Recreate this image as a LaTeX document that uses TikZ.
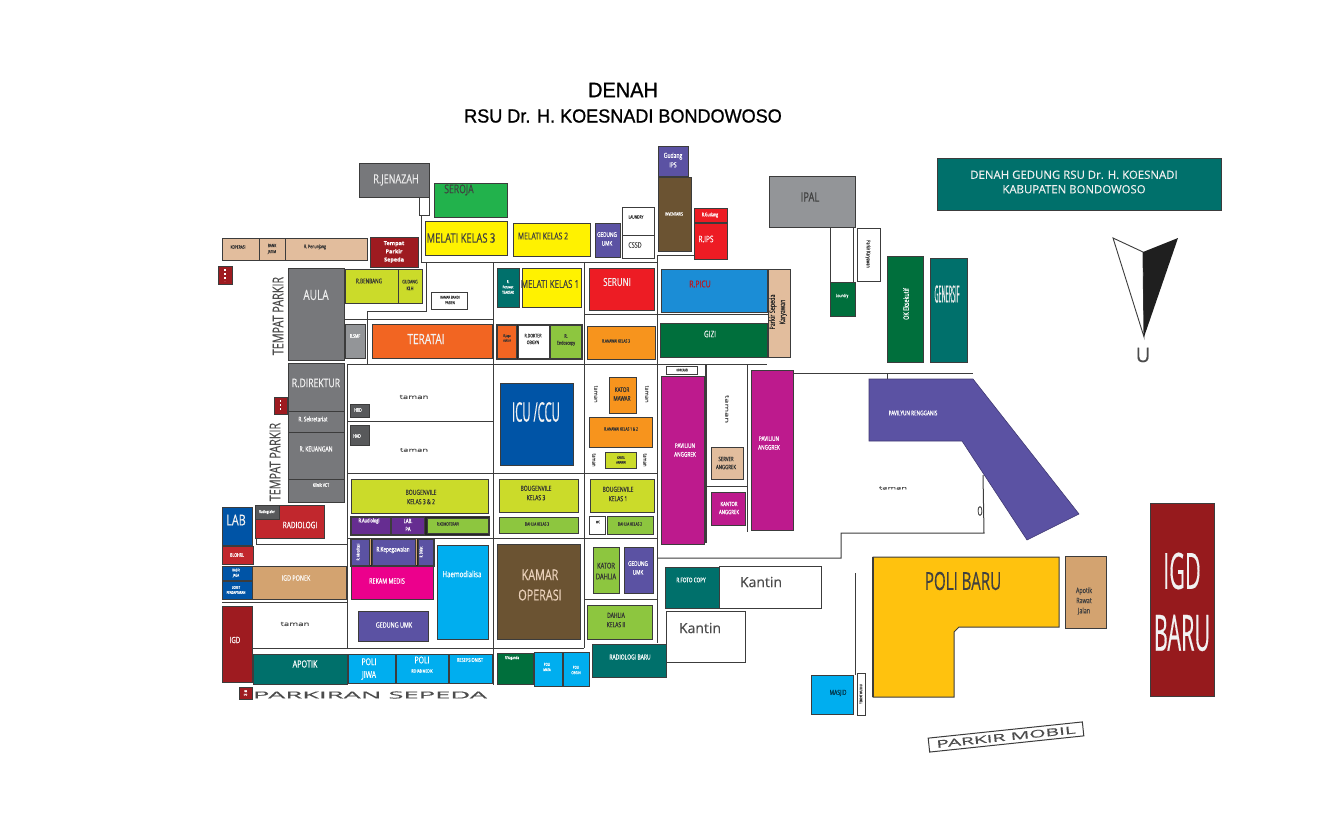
\documentclass[tikz,border=0pt]{standalone}
\usepackage{fontspec}
\setmainfont{Liberation Sans}
\newfontfamily\nar[FakeStretch=.72,FakeBold=.4]{Open Sans}
\newfontfamily\wid[FakeBold=.3]{Open Sans}
\newfontfamily\tit[FakeStretch=.95,FakeBold=1]{Liberation Sans}
\definecolor{gy}{HTML}{77787B}\definecolor{lg}{HTML}{939598}\definecolor{dg}{HTML}{58595B}
\definecolor{grn}{HTML}{22B24C}\definecolor{yel}{HTML}{FFF200}\definecolor{bei}{HTML}{E2BD9D}
\definecolor{crm}{HTML}{9E1B20}\definecolor{lim}{HTML}{CBDB2A}\definecolor{org}{HTML}{F26522}
\definecolor{pur}{HTML}{662D91}\definecolor{lgr}{HTML}{8DC63F}\definecolor{blu}{HTML}{0054A6}
\definecolor{red2}{HTML}{C1272D}\definecolor{tan2}{HTML}{D3A370}\definecolor{vio}{HTML}{5B52A3}
\definecolor{mag}{HTML}{EC008C}\definecolor{cya}{HTML}{00AEEF}\definecolor{tea}{HTML}{00706B}
\definecolor{bro}{HTML}{6B5332}\definecolor{red1}{HTML}{ED1C24}\definecolor{azu}{HTML}{1B8DD6}
\definecolor{dgr}{HTML}{006F3C}\definecolor{amb}{HTML}{F7941D}\definecolor{pav}{HTML}{BD1A8D}
\definecolor{gol}{HTML}{FFC20E}\definecolor{igd}{HTML}{961A1D}\definecolor{lin}{HTML}{3C3C3C}
\newcounter{labn}
\tikzset{
 roombox/.style={draw=lin,line width=1pt,inner sep=0pt,outer sep=0pt},
 wall/.style={draw=lin,line width=1pt},
 roomtext/.style={inner sep=0pt,outer sep=0pt,align=center},
 squeezed/.style={transform shape,xscale=#1}
}
\newcommand\room[6]{%
 \pgfmathsetmacro\rw{#4-#2}\pgfmathsetmacro\rh{#5-#3}%
 \pgfmathsetmacro\cxx{(#2+#4)/2}\pgfmathsetmacro\cyy{(#3+#5)/2}%
 \node[roombox,fill=#6,minimum width=\rw pt,minimum height=\rh pt] (#1) at (\cxx,\cyy) {};}
\newcommand\lab[6][]{%
 \stepcounter{labn}\pgfmathsetmacro\ll{#5*1.35}%
 \node[roomtext,text=#4,font={\nar\fontsize{#5}{\ll}\selectfont},#1] (lab\thelabn) at (#2,#3) {#6};}
\newcommand\tam[5][]{%
 \stepcounter{labn}%
 \node[roomtext,text=black!70,#1] (lab\thelabn) at (#2,#3) {\resizebox{#4pt}{#5pt}{\wid taman}};}
\begin{document}
\begin{tikzpicture}[x=1pt,y=-1pt]
\useasboundingbox (0,0) rectangle (1344,816);
% title
\node[roomtext,font={\tit\fontsize{21}{24}\selectfont}] (t1) at (623,90) {DENAH};
\node[roomtext,font={\tit\fontsize{19}{22}\selectfont}] (t2) at (623,116) {RSU Dr. H. KOESNADI BONDOWOSO};
% walls
\draw[wall] (421,215)--(421,262)--(657,262);
\draw[wall] (426,262)--(426,311)--(367,311)--(367,364);
\draw[wall] (344,319)--(493,319);
\draw[wall] (493,262)--(493,685);
\draw[wall] (347,364)--(657,364);
\draw[wall] (657,364)--(767,364);
\draw[wall] (347,364)--(347,648);
\draw[wall] (347,421)--(493,421);
\draw[wall] (347,473)--(657,473);
\draw[wall] (347,538)--(657,538);
\draw[wall] (256,538)--(256,544)--(347,544);
\draw[wall] (222,602)--(347,602);
\draw[wall] (252,648)--(584,648);
\draw[wall] (584,262)--(584,648);
\draw[wall] (657,255)--(657,643);
\draw[wall] (657,255)--(694,255);
\draw[wall] (584,314)--(768,314);
\draw[wall] (584,599)--(657,599);
\draw[wall,line width=1.6pt] (706,364)--(706,543);
\draw[wall] (747,364)--(747,532);
\draw[wall] (706,486)--(747,486);
\draw[wall] (793,373)--(973,373);
\draw[wall] (887,373)--(887,379);
\draw[wall] (983,475)--(984,533)--(841,533)--(841,558)--(657,558);
\draw[wall] (855,573)--(855,675);
% top left
\room{jen}{359}{163}{429}{197}{gy}\lab{396}{180}{white!85!gray}{12.5}{R.JENAZAH}
\room{jenb}{419}{197}{429}{215}{white}
\room{ser}{434}{183}{507}{217}{grn}\lab{459}{190}{black!75}{12}{SEROJA}
\room{m3}{425}{221}{507}{255}{yel}\lab{461}{238}{black!75}{13}{MELATI KELAS 3}
\room{bei}{222}{238}{367}{260}{bei}
\draw[wall] (259,238)--(259,260) (285,238)--(285,260);
\lab{238}{247}{black!80}{4.5}{KOPERASI}
\lab{272}{249}{black!80}{4.5}{BANK\\JATIM}
\lab{315}{247}{black!80}{5}{R. Penunjang}
\room{tps}{370}{237}{418}{267}{crm}
\node[roomtext,text=white,font={\wid\bfseries\fontsize{5.5}{8.2}\selectfont}] (tpst) at (394,252) {Tempat\\Parkir\\Sepeda};
\room{ic1}{218}{266}{232}{284}{crm}
\draw[white,line width=1.2pt,dash pattern=on 2pt off 2pt] (225,269)--(225,281);
\room{aula}{288}{268}{344}{360}{gy}\lab{316}{295}{white!85!gray}{14}{AULA}
\room{ben}{345}{269}{398}{303}{lim}\lab{369}{281}{black!80}{6.5}{R.BENBANG}
\room{gud}{398}{269}{422}{303}{lim}\lab{410}{285}{black!80}{5}{GUDANG\\KLH}
\room{kam}{431}{292}{467}{309}{white}\lab{450}{300}{black!80}{4}{KAMAR BANDI\\PASIEN}
\room{smf}{345}{324}{365}{358}{lg}\lab{355}{336}{white}{5}{R.SMF}
\room{ter}{372}{324}{492}{358}{org}\lab{426}{339}{white!90!gray}{14}{TERATAI}
\lab[rotate=90]{278}{316}{black!70}{15}{TEMPAT PARKIR}
\lab[rotate=90]{275}{462}{black!70}{15}{TEMPAT PARKIR}
% admin
\room{dir}{288}{363}{344}{411}{gy}\lab{316}{383}{white!90!gray}{12}{R.DIREKTUR}
\room{sek}{288}{411}{344}{432}{gy}\lab{313}{419}{white}{6.5}{R. Sekretariat}
\room{keu}{288}{432}{344}{479}{gy}\lab{316}{449}{white}{7}{R. KEUANGAN}
\room{vct}{288}{479}{344}{502}{gy}\lab{321}{485}{white}{5}{Klinik VCT}
\room{ic2}{274}{397}{287}{414}{crm}
\draw[white,line width=1.2pt,dash pattern=on 2pt off 2pt] (280.5,400)--(280.5,411);
\room{hrd}{350}{404}{369}{417}{dg}\lab{358}{410}{white}{5}{HRD}
\room{had}{350}{425}{369}{445}{dg}\lab{357}{436}{white}{5}{HAD}
\tam{414}{397}{29}{4}
\tam{414}{450}{28}{3.5}
\room{b32}{351}{479}{488}{513}{lim}\lab{421}{497}{black!80}{7}{BOUGENVILE\\KELAS 3 \& 2}
\room{strip}{350}{516}{489}{535}{black!85}
\room{aud}{351}{517}{390}{534}{pur}\lab{369}{521}{white}{5.5}{R.Audiologi}
\room{lpa}{391}{517}{424}{534}{pur}\lab{408}{525}{white}{6}{LAB.\\PA}
\room{kem}{427}{518}{488}{533}{lgr}\lab{448}{524}{black!80}{4.5}{R.KEMOTERAPI}
\room{lab}{222}{507}{252}{545}{blu}\lab{236}{520}{white!90!gray}{15}{LAB}
\room{rad}{255}{505}{324}{538}{red2}\lab{300}{525}{white}{9}{RADIOLOGI}
\room{rag}{255}{505}{279}{519}{dg}\lab{267}{512}{white}{4}{Radiografer}
\room{blo}{222}{546}{253}{564}{red2}\lab{237}{555}{white}{5}{BLOHRL}
\room{kas}{222}{566}{252}{580}{blu}\lab{236}{573}{white}{3.8}{KASIR\\JAGA}
\room{lok}{222}{581}{252}{599}{blu}\lab{236}{590}{white}{3.8}{LOKET\\PENDAFTARAN}
\room{pon}{252}{566}{346}{599}{tan2}\lab{296}{578}{white}{7.5}{IGD PONEK}
\room{kepbg}{350}{538}{434}{566}{black!85}
\room{kep1}{351}{539}{369}{565}{vio}\lab[rotate=90]{358}{552}{white}{4}{R. Akreditasi}
\room{kep2}{372}{539}{415}{565}{vio}\lab{393}{550}{white}{6.5}{R.Kepegawaian}
\room{kep3}{418}{539}{433}{565}{vio}\lab[rotate=90]{421}{552}{white}{4}{R. Diklat}
\draw[tan2,line width=1pt] (370.5,539)--(370.5,565) (416.5,539)--(416.5,565);
\room{rek}{351}{566}{433}{599}{mag}\lab{387}{581}{white}{7.5}{REKAM MEDIS}
\room{hem}{437}{545}{488}{639}{cya}\lab{462}{574}{white}{8.5}{Haemodialisa}
\room{guk}{358}{611}{428}{641}{vio}\lab{394}{625}{white}{7.5}{GEDUNG UMK}
\room{igd}{222}{606}{252}{682}{crm}\lab{235}{640}{white}{8.5}{IGD}
\tam{295}{624}{29}{4}
\room{apo}{253}{654}{347}{684}{tea}\lab{305}{664}{white}{10}{APOTIK}
\room{pj}{348}{654}{395}{683}{cya}\lab{369}{669}{white}{9.5}{POLI\\JIWA}
\room{prm}{396}{654}{448}{683}{cya}\lab{422}{660}{white}{9.5}{POLI}\lab{422}{671}{white}{4.5}{REHAB MEDIK}
\room{res}{449}{654}{492}{683}{cya}\lab{470}{660}{white}{5.5}{RESEPSIONIST}
\room{ic3}{239}{687}{252}{699}{crm}\lab{245.5}{693}{white}{2.5}{PKR\\SPD}
\node[roomtext,text=black!70] (parks) at (370,695) {\resizebox{234pt}{7pt}{\wid PARKIRAN SEPEDA}};
% centre top
\room{gi}{658}{146}{688}{176}{vio}\lab{673}{160}{white}{7}{Gudang\\IPS}
\room{inv}{658}{177}{691}{251}{bro}\lab{674}{214}{white}{4.5}{INVENTARIS}
\room{rgu}{694}{208}{727}{222}{red1}\lab{710}{215}{white}{5}{R.Gudang}
\room{rip}{694}{223}{727}{259}{red1}\lab{706}{239}{white}{9}{R.IPS}
\room{lau}{622}{207}{654}{235}{white}\lab{636}{217}{black!80}{4.5}{LAUNDRY}
\room{css}{622}{235}{654}{258}{white}\lab{635}{245}{black!70}{7.5}{CSSD}
\room{gu2}{595}{223}{620}{257}{vio}\lab{607}{239}{white}{6.5}{GEDUNG\\UMK}
\room{m2}{513}{223}{590}{256}{yel}\lab{543}{236}{black!75}{9.5}{MELATI KELAS 2}
\room{rpt}{497}{268}{519}{307}{tea}\lab{508}{287}{white}{4}{R.\\Perawat\\TEAKTAK}
\room{m1}{522}{268}{581}{307}{yel}\lab{550}{284}{black!75}{11}{MELATI KELAS 1}
\room{srn}{589}{268}{654}{310}{red1}\lab{617}{282}{white!90!gray}{11}{SERUNI}
\room{pic}{661}{269}{767}{312}{azu}\lab{700}{284}{red1!80!black}{9.5}{R.PICU}
\room{psk}{768}{269}{790}{357}{bei}\lab[rotate=90]{778}{312}{black!85}{7.5}{Parkir Sepeda\\Karyawan}
\room{giz}{660}{323}{767}{357}{dgr}\lab{710}{334}{white!90!gray}{9}{GIZI}
\room{ka3}{587}{326}{655}{359}{amb}\lab{616}{341}{black!80}{4.5}{R.ANAWAI KELAS 3}
\room{sbg}{496}{324}{582}{359}{black!85}
\room{ojg}{497}{325}{516}{358}{org}\lab{507}{338}{black!80}{3.5}{R.jaga\\dokter}
\room{obg}{518}{325}{549}{358}{white}\lab{533}{339}{black!80}{5}{R.DOKTER\\OBGYN}
\room{end}{550}{325}{581}{358}{lgr}\lab{566}{340}{black!80}{5}{R.\\Endoscopy}
% ICU block
\room{icu}{500}{383}{573}{465}{blu}\lab[squeezed=.58]{536}{412}{white!90!gray}{27}{ICU /CCU}
\room{kma}{609}{377}{636}{413}{amb}\lab{622}{394}{black!80}{6.5}{KATOR\\MAWAR}
\tam[rotate=270]{596}{394}{17}{3.5}
\tam[rotate=270]{647}{394}{17}{3.5}
\room{k12}{589}{417}{652}{447}{amb}\lab{621}{429}{black!80}{4.5}{R.ANAWAI KELAS 1 \& 2}
\tam[rotate=270]{594}{460}{13}{3.5}
\tam[rotate=270]{645}{460}{13}{3.5}
\room{kar}{605}{452}{636}{468}{lim}\lab{621}{460}{black!80}{3.5}{KARTU\\ANAWAI}
\room{b3}{499}{479}{578}{512}{lim}\lab{536}{493}{black!80}{7}{BOUGENVILE\\KELAS 3}
\room{b1}{590}{479}{654}{512}{lim}\lab{618}{494}{black!80}{7}{BOUGENVILE\\KELAS 1}
\room{d3}{499}{517}{578}{533}{lgr}\lab{537}{524}{black!80}{4.5}{DAHLIA KELAS 3}
\room{wc}{589}{516}{605}{534}{white}\lab{598}{522}{black!80}{3.5}{WC}
\room{d2}{607}{516}{653}{534}{lgr}\lab{630}{524}{black!80}{4.5}{DAHLIA KELAS 2}
\room{kop}{497}{544}{580}{639}{bro}\lab{540}{585}{bei!70!white}{15}{KAMAR\\OPERASI}
\room{kda}{593}{547}{619}{593}{lgr}\lab{606}{571}{black!80}{8}{KATOR\\DAHLIA}
\room{gu3}{624}{547}{653}{593}{vio}\lab{638}{568}{white}{6.5}{GEDUNG\\UMK}
\room{dk2}{587}{605}{652}{639}{lgr}\lab{616}{620}{black!80}{7}{DAHLIA\\KELAS II}
\room{vag}{497}{653}{533}{684}{dgr}\lab{512}{658}{white}{4}{R.Vaganda}
\room{pm}{534}{652}{562}{686}{cya}\lab{547}{667}{white}{4}{POLI\\MATA}
\room{po}{563}{652}{589}{686}{cya}\lab{576}{670}{white}{4}{POLI\\OBGIN}
\room{kan2}{666}{611}{745}{662}{white}\lab{700}{628}{black!70}{14}{\wid Kantin}
\room{rba}{592}{644}{666}{677}{tea}\lab{630}{657}{white}{7}{RADIOLOGI BARU}
\room{kan1}{719}{566}{821}{608}{white}\lab{761}{582}{black!70}{14}{\wid Kantin}
\room{fot}{665}{567}{719}{608}{tea}\lab{691}{580}{white}{6.5}{R.FOTO COPY}
% pavilions
\room{hop}{666}{366}{697}{374}{white}\lab{682}{370}{black!80}{3.5}{HOPERASI}
\room{p1}{661}{376}{704}{544}{pav}\lab{685}{450}{white}{6.5}{PAVILIUN\\ANGGREK}
\room{p2}{751}{370}{793}{530}{pav}\lab{769}{443}{white}{6.5}{PAVILIUN\\ANGGREK}
\tam[rotate=270]{727}{409}{28}{3.5}
\room{sva}{711}{447}{743}{479}{bei}\lab{726}{463}{black!80}{6}{SERVER\\ANGGREK}
\room{kta}{711}{492}{745}{525}{pav}\lab{729}{508}{white}{6}{KANTOR\\ANGGREK}
% right top
\room{ipal}{769}{176}{855}{227}{lg}\lab{810}{197}{black!75}{13}{IPAL}
\room{wh1}{830}{227}{853}{282}{white}
\room{wh2}{857}{228}{880}{281}{white}\lab[rotate=270]{868}{254}{black!80}{5}{Parkir Karyawan}
\room{lau2}{830}{282}{855}{316}{dgr}\lab{842}{296}{white}{4.5}{Loundry}
\room{oke}{887}{256}{923}{362}{dgr}\lab[rotate=90]{906}{304}{white}{7.5}{OK Eksekutif}
\room{gen}{930}{258}{967}{362}{tea}
\node[roomtext,text=white!85!gray] (gent) at (947,294) {\resizebox{25pt}{17pt}{\nar GENERSIF}};
\room{hdr}{937}{158}{1221}{210}{tea}
\node[roomtext,text=white!88!gray,font={\wid\fontsize{11.4}{14.5}\selectfont}] (hdrt) at (1074,182) {DENAH GEDUNG RSU Dr. H. KOESNADI\\KABUPATEN BONDOWOSO};
% compass
\coordinate (ca) at (1113,238);\coordinate (cb) at (1143,252);\coordinate (cc) at (1178,238);\coordinate (cd) at (1144,337);
\draw[lin,line width=.9pt,fill=white] (ca)--(cb)--(cd)--cycle;
\fill[black!88] (cb)--(cc)--(cd)--cycle;
\node[roomtext,text=black!70,font={\wid\fontsize{20}{22}\selectfont}] (uu) at (1143,355) {U};
% renggani
\draw[draw=vio!70!black,line width=.6pt,fill=vio] (869,379)--(973,379)--(1079,514)--(1027,540)--(962,441)--(869,441)--cycle;
\lab{913}{413}{white}{6.5}{PAVILYUN RENGGANIS}
\tam{893}{488}{28}{3}
\lab{980}{511}{black!70}{13}{0}
% poli baru
\coordinate (pa) at (873,557);\coordinate (pb) at (1059,557);\coordinate (pc) at (1059,627);\coordinate (pd) at (959,627);\coordinate (pe) at (954,632);\coordinate (pf) at (954,697);\coordinate (pg) at (873,697);
\draw[wall,fill=gol] (pa)--(pb)--(pc)--(pd)--(pe)--(pf)--(pg)--cycle;
\draw[lin,line width=1.6pt] (pa)--(pg);
\lab[squeezed=.84]{963}{581}{black!75}{25}{POLI BARU}
\room{apj}{1065}{556}{1106}{628}{tan2}\lab{1084}{601}{black!75}{7.5}{Apotik\\Rawat\\Jalan}
\room{ib}{1150}{503}{1214}{696}{igd}
\lab[squeezed=.6]{1182}{571}{white!90!gray}{50}{IGD}
\lab[squeezed=.6]{1182}{633}{white!90!gray}{50}{BARU}
\room{mas}{811}{675}{853}{714}{cya}\lab{838}{693}{black!70!cya}{7}{MASJID}
\room{stri}{857}{673}{865}{715}{white}\lab[rotate=90]{861}{694}{black!80}{3.5}{TEMPAT WUDHU}
\node[draw=lin,line width=1pt,fill=white,rotate=6,minimum width=155pt,minimum height=14pt,inner sep=0pt,text=black!70] (pmb) at (1006,737) {\resizebox{140pt}{7.5pt}{\wid PARKIR MOBIL}};
\end{tikzpicture}
\end{document}
